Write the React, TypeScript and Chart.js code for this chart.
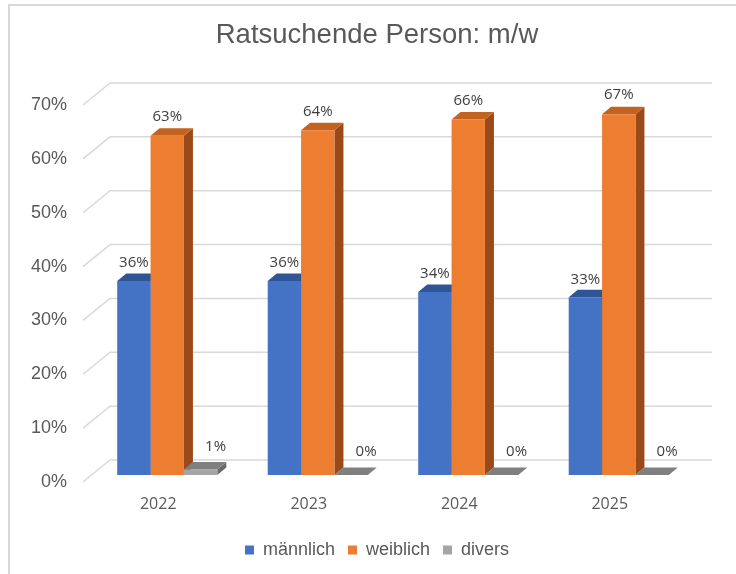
import { useEffect, useRef } from 'react';
import { Chart, registerables } from 'chart.js';

Chart.register(...registerables);

// ---- data ----
const categories = ['2022', '2023', '2024', '2025'];
const seriesNames = ['männlich', 'weiblich', 'divers'];
const maleValues = [36, 36, 34, 33];
const femaleValues = [63, 64, 66, 67];
const diversValues = [1, 0, 0, 0];
const yMin = 0;
const yMax = 70;
const yStep = 10;
const titleText = 'Ratsuchende Person: m/w';

// ---- styles ----
const frontColors = ['#4472c4', '#ed7d31', '#a5a5a5'];
const topColors = ['#2f5597', '#c4621f', '#7f7f7f'];
const sideColors = ['#2a4b86', '#9a4a1a', '#696969'];
const labelOffsets = [
  [0, -18],
  [0, -19],
  [15, -23],
];
const BAR_DX = 9;
const BAR_DY = -7.5;
const WALL_DX = 18;
const WALL_DY = -15;
const FRONT_DX = -9;
const FRONT_DY = 7;

const threeDPlugin = {
  id: 'threeD',
  beforeDraw(chart: any) {
    const { ctx } = chart;
    ctx.save();
    ctx.strokeStyle = '#d9d9d9';
    ctx.lineWidth = 2;
    ctx.beginPath();
    ctx.moveTo(9, 574);
    ctx.lineTo(9, 5);
    ctx.lineTo(736, 5);
    ctx.stroke();
    ctx.restore();
  },
  beforeDatasetsDraw(chart: any) {
    const { ctx, chartArea } = chart;
    const yScale = chart.scales.y;
    ctx.save();
    ctx.strokeStyle = '#d9d9d9';
    ctx.lineWidth = 1.5;
    yScale.ticks.forEach((t: any) => {
      const py = yScale.getPixelForValue(t.value);
      ctx.beginPath();
      ctx.moveTo(chartArea.left + FRONT_DX, py + FRONT_DY);
      ctx.lineTo(chartArea.left + WALL_DX, py + WALL_DY);
      ctx.lineTo(chartArea.right + WALL_DX, py + WALL_DY);
      ctx.stroke();
    });
    const metas = chart.data.datasets.map((_: any, i: number) => chart.getDatasetMeta(i));
    for (let c = 0; c < categories.length; c++) {
      metas.forEach((meta: any, i: number) => {
        const el = meta.data[c];
        if (!el) return;
        const p = el.getProps(['x', 'y', 'base', 'width'], true);
        const left = p.x - p.width / 2;
        const right = p.x + p.width / 2;
        const top = Math.min(p.y, p.base);
        const bottom = Math.max(p.y, p.base);
        // side face
        ctx.fillStyle = sideColors[i];
        ctx.beginPath();
        ctx.moveTo(right, top);
        ctx.lineTo(right + BAR_DX, top + BAR_DY);
        ctx.lineTo(right + BAR_DX, bottom + BAR_DY);
        ctx.lineTo(right, bottom);
        ctx.closePath();
        ctx.fill();
        // top face
        ctx.fillStyle = topColors[i];
        ctx.beginPath();
        ctx.moveTo(left, top);
        ctx.lineTo(right, top);
        ctx.lineTo(right + BAR_DX, top + BAR_DY);
        ctx.lineTo(left + BAR_DX, top + BAR_DY);
        ctx.closePath();
        ctx.fill();
      });
    }
    ctx.restore();
  },
  afterDatasetsDraw(chart: any) {
    const { ctx } = chart;
    ctx.save();
    ctx.font = '15px "Open Sans"';
    ctx.fillStyle = '#404040';
    ctx.textAlign = 'center';
    ctx.textBaseline = 'middle';
    chart.data.datasets.forEach((ds: any, i: number) => {
      const meta = chart.getDatasetMeta(i);
      meta.data.forEach((el: any, c: number) => {
        const p = el.getProps(['x', 'y', 'base'], true);
        const top = Math.min(p.y, p.base);
        ctx.fillText(ds.data[c] + '%', p.x + labelOffsets[i][0], top + labelOffsets[i][1]);
      });
    });
    ctx.restore();
  },
};

export default function App() {
  const canvasRef = useRef<HTMLCanvasElement | null>(null);

  useEffect(() => {
    const canvas = canvasRef.current;
    if (!canvas) return;
    const seriesValues = [maleValues, femaleValues, diversValues];
    const chart = new Chart(canvas, {
      type: 'bar',
      data: {
        labels: categories,
        datasets: seriesNames.map((name, i) => ({
          label: name,
          data: seriesValues[i],
          backgroundColor: frontColors[i],
          borderWidth: 0,
          barPercentage: 1,
          categoryPercentage: 0.665,
        })),
      },
      options: {
        responsive: false,
        animation: false,
        events: [],
        layout: { padding: { left: 18, right: 0, top: 0, bottom: 5 } },
        scales: {
          x: {
            type: 'category',
            grid: { display: false, drawTicks: false },
            border: { display: false },
            ticks: {
              color: '#595959',
              font: { family: 'Open Sans', size: 16 },
              padding: 19.4,
              labelOffset: FRONT_DX,
            },
            afterFit: (s: any) => {
              s.height = 53;
            },
          },
          y: {
            type: 'linear',
            position: 'left',
            min: yMin,
            max: yMax,
            grid: { display: false, drawTicks: false },
            border: { display: false },
            ticks: {
              stepSize: yStep,
              color: '#595959',
              font: { family: 'Liberation Sans', size: 18 },
              padding: 25,
              labelOffset: FRONT_DY,
              callback: (v: any) => v + '%',
            },
            afterFit: (s: any) => {
              s.width = 74;
            },
          },
          yRight: {
            type: 'linear',
            position: 'right',
            grid: { display: false, drawTicks: false },
            border: { display: false },
            ticks: { display: false },
            afterFit: (s: any) => {
              s.width = 42;
            },
          },
        },
        plugins: {
          title: {
            display: true,
            text: titleText,
            color: '#595959',
            font: { family: 'Liberation Sans', size: 27.5, weight: 'normal' },
            padding: { top: 18.5, bottom: 46.5 },
          },
          legend: {
            display: true,
            position: 'bottom',
            maxHeight: 48,
            labels: {
              boxWidth: 9,
              boxHeight: 9,
              padding: 13,
              color: '#595959',
              font: { family: 'Liberation Sans', size: 18 },
            },
          },
          tooltip: { enabled: false },
        },
      },
      plugins: [threeDPlugin],
    } as any);
    return () => chart.destroy();
  }, []);

  return (
    <div style={{ position: 'fixed', left: 0, top: 0, width: 736, height: 574, background: '#fff' }}>
      <canvas ref={canvasRef} width={736} height={574} style={{ display: 'block' }} />
    </div>
  );
}
